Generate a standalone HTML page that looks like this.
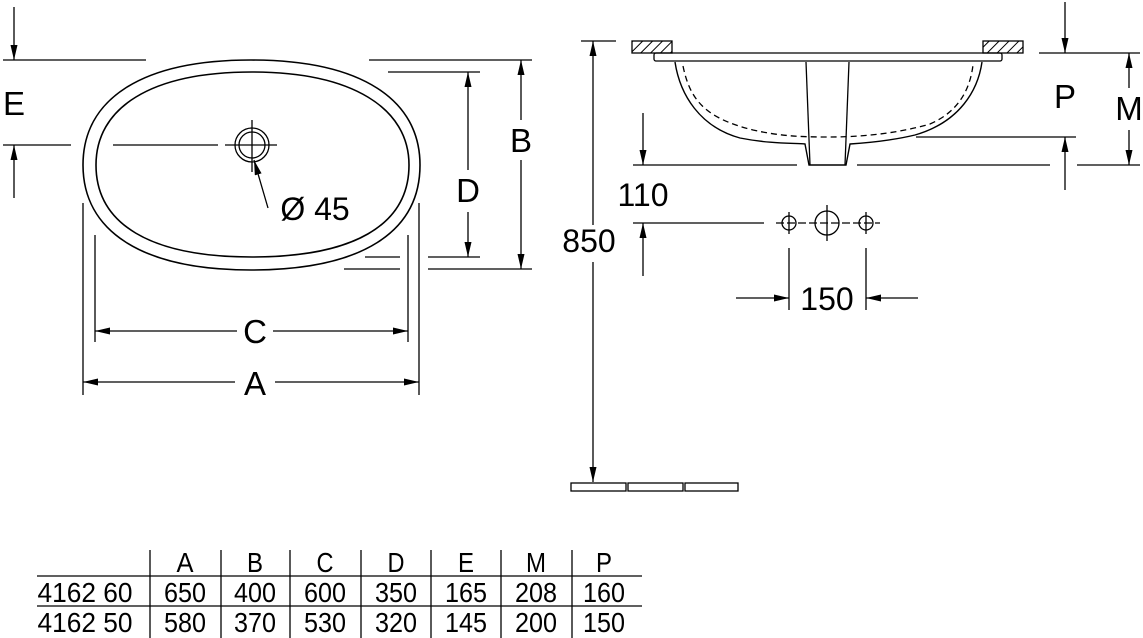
<!DOCTYPE html>
<html><head><meta charset="utf-8"><style>
html,body{margin:0;padding:0;background:#fff;}
svg{display:block;font-family:"Liberation Sans",sans-serif;}
</style></head><body>
<svg width="1143" height="638" viewBox="0 0 1143 638" xmlns="http://www.w3.org/2000/svg">
<defs>
<marker id="ar" markerUnits="userSpaceOnUse" markerWidth="16" markerHeight="8" refX="15" refY="3.5" orient="auto-start-reverse"><path d="M0,0 L15,3.5 L0,7 z" fill="#000"/></marker>
<pattern id="hatch" patternUnits="userSpaceOnUse" width="7" height="7" patternTransform="rotate(45)"><rect width="7" height="7" fill="#fff"/><line x1="0" y1="0" x2="0" y2="7" stroke="#000" stroke-width="2"/></pattern>
</defs>
<g stroke="#000" stroke-width="1.3" fill="none">
<path d="M251,60 C362,60 420,100 420,165 C420,232 362,270 251,270 C140,270 83,230 83,165 C83,100 140,60 251,60 Z" stroke-width="1.6"/>
<path d="M252,72 C352,72 409,108 409,165 C409,226 352,257 252,257 C150,257 96,224 96,165 C96,108 150,72 252,72 Z" stroke-width="1.6"/>
<line x1="3" y1="60" x2="146" y2="60"/>
<line x1="369" y1="60" x2="532" y2="60"/>
<line x1="14" y1="7" x2="14" y2="60" marker-end="url(#ar)"/>
<line x1="14" y1="198" x2="14" y2="145" marker-end="url(#ar)"/>
<line x1="3" y1="145" x2="71" y2="145"/>
<line x1="113" y1="145" x2="218" y2="145"/>
<line x1="225" y1="145" x2="277" y2="145"/>
<line x1="252" y1="120" x2="252" y2="172"/>
<circle cx="252" cy="145" r="17"/>
<circle cx="252" cy="145" r="13"/>
<line x1="268" y1="208" x2="254" y2="160" marker-end="url(#ar)"/>
<line x1="388" y1="72" x2="480" y2="72"/>
<line x1="365" y1="257" x2="400" y2="257"/>
<line x1="428" y1="257" x2="480" y2="257"/>
<line x1="344" y1="269" x2="400" y2="269"/>
<line x1="428" y1="269" x2="532" y2="269"/>
<line x1="468" y1="170" x2="468" y2="72" marker-end="url(#ar)"/>
<line x1="468" y1="212" x2="468" y2="257" marker-end="url(#ar)"/>
<line x1="521" y1="120" x2="521" y2="60" marker-end="url(#ar)"/>
<line x1="521" y1="160" x2="521" y2="269" marker-end="url(#ar)"/>
<line x1="83" y1="203" x2="83" y2="395"/>
<line x1="419" y1="203" x2="419" y2="395"/>
<line x1="95" y1="235" x2="95" y2="342"/>
<line x1="408" y1="235" x2="408" y2="342"/>
<line x1="237" y1="331" x2="95" y2="331" marker-end="url(#ar)"/>
<line x1="273" y1="331" x2="408" y2="331" marker-end="url(#ar)"/>
<line x1="235" y1="382" x2="83" y2="382" marker-end="url(#ar)"/>
<line x1="275" y1="382" x2="419" y2="382" marker-end="url(#ar)"/>
<line x1="581" y1="41" x2="616" y2="41"/>
<line x1="593" y1="225" x2="593" y2="41" marker-end="url(#ar)"/>
<line x1="593" y1="262" x2="593" y2="482" marker-end="url(#ar)"/>
<rect x="571" y="483" width="55" height="8"/>
<rect x="628" y="483" width="55" height="8"/>
<rect x="685" y="483" width="53" height="8"/>
<rect x="632" y="41" width="40" height="12" fill="url(#hatch)"/>
<rect x="983" y="41" width="40" height="12" fill="url(#hatch)"/>
<rect x="654" y="53" width="348" height="8" rx="2"/>
<path d="M675,62 C680,95 700,127 740,138 C770,144 795,143 805,144 L809,165 L846,165 L850,144 C865,143 890,141 915,135 C960,122 978,90 982,62" stroke-width="1.4"/>
<line x1="806" y1="62" x2="810" y2="165"/>
<line x1="849" y1="62" x2="845" y2="165"/>
<path d="M683,66 C690,100 705,118 753,130 C780,136 800,137 828,137 C860,137 895,134 930,124 C958,112 970,90 973,65" stroke-dasharray="6,4"/>
<line x1="633" y1="165" x2="797" y2="165"/>
<line x1="857" y1="165" x2="1050" y2="165"/>
<line x1="1077" y1="165" x2="1140" y2="165"/>
<line x1="916" y1="137" x2="1076" y2="137"/>
<line x1="1039" y1="53" x2="1140" y2="53"/>
<line x1="1065" y1="2" x2="1065" y2="53" marker-end="url(#ar)"/>
<line x1="1065" y1="190" x2="1065" y2="137" marker-end="url(#ar)"/>
<line x1="1129" y1="88" x2="1129" y2="53" marker-end="url(#ar)"/>
<line x1="1129" y1="130" x2="1129" y2="165" marker-end="url(#ar)"/>
<line x1="643" y1="113" x2="643" y2="165" marker-end="url(#ar)"/>
<line x1="643" y1="276" x2="643" y2="223" marker-end="url(#ar)"/>
<line x1="633" y1="223" x2="764" y2="223"/>
<circle cx="789" cy="223" r="7"/>
<circle cx="827" cy="223" r="12"/>
<circle cx="866" cy="223" r="7"/>
<line x1="776" y1="223" x2="880" y2="223" stroke-dasharray="8,3"/>
<line x1="789" y1="212" x2="789" y2="234"/>
<line x1="827" y1="205" x2="827" y2="241"/>
<line x1="866" y1="212" x2="866" y2="234"/>
<line x1="789" y1="248" x2="789" y2="310"/>
<line x1="866" y1="248" x2="866" y2="310"/>
<line x1="736" y1="298" x2="789" y2="298" marker-end="url(#ar)"/>
<line x1="918" y1="298" x2="866" y2="298" marker-end="url(#ar)"/>
<line x1="37" y1="576" x2="642" y2="576"/>
<line x1="37" y1="606" x2="642" y2="606"/>
<line x1="150" y1="550" x2="150" y2="638"/>
<line x1="221" y1="550" x2="221" y2="638"/>
<line x1="290" y1="550" x2="290" y2="638"/>
<line x1="361" y1="550" x2="361" y2="638"/>
<line x1="431" y1="550" x2="431" y2="638"/>
<line x1="501" y1="550" x2="501" y2="638"/>
<line x1="572" y1="550" x2="572" y2="638"/>
</g>
<g fill="#000" font-size="33" text-anchor="middle">
<text x="14" y="115">E</text>
<text x="521" y="152">B</text>
<text x="468" y="202">D</text>
<text x="255" y="343">C</text>
<text x="255" y="395">A</text>
<text x="315" y="220" font-size="32">Ø 45</text>
<text x="589" y="252" font-size="32">850</text>
<text x="643" y="206" font-size="32">110</text>
<text x="827" y="310" font-size="32">150</text>
<text x="1065" y="108">P</text>
<text x="1129" y="120">M</text>
</g>
<g fill="#000" font-size="28" text-anchor="middle">
<text x="185" y="572" textLength="17" lengthAdjust="spacingAndGlyphs">A</text><text x="255" y="572" textLength="16" lengthAdjust="spacingAndGlyphs">B</text><text x="325" y="572" textLength="17" lengthAdjust="spacingAndGlyphs">C</text><text x="396" y="572" textLength="17" lengthAdjust="spacingAndGlyphs">D</text><text x="466" y="572" textLength="16" lengthAdjust="spacingAndGlyphs">E</text><text x="536" y="572" textLength="20" lengthAdjust="spacingAndGlyphs">M</text><text x="604" y="572" textLength="16" lengthAdjust="spacingAndGlyphs">P</text>
<text x="85" y="602" textLength="95" lengthAdjust="spacingAndGlyphs">4162 60</text>
<text x="185" y="602" textLength="42" lengthAdjust="spacingAndGlyphs">650</text><text x="255" y="602" textLength="42" lengthAdjust="spacingAndGlyphs">400</text><text x="325" y="602" textLength="42" lengthAdjust="spacingAndGlyphs">600</text><text x="396" y="602" textLength="42" lengthAdjust="spacingAndGlyphs">350</text><text x="466" y="602" textLength="42" lengthAdjust="spacingAndGlyphs">165</text><text x="536" y="602" textLength="42" lengthAdjust="spacingAndGlyphs">208</text><text x="604" y="602" textLength="42" lengthAdjust="spacingAndGlyphs">160</text>
<text x="85" y="632" textLength="95" lengthAdjust="spacingAndGlyphs">4162 50</text>
<text x="185" y="632" textLength="42" lengthAdjust="spacingAndGlyphs">580</text><text x="255" y="632" textLength="42" lengthAdjust="spacingAndGlyphs">370</text><text x="325" y="632" textLength="42" lengthAdjust="spacingAndGlyphs">530</text><text x="396" y="632" textLength="42" lengthAdjust="spacingAndGlyphs">320</text><text x="466" y="632" textLength="42" lengthAdjust="spacingAndGlyphs">145</text><text x="536" y="632" textLength="42" lengthAdjust="spacingAndGlyphs">200</text><text x="604" y="632" textLength="42" lengthAdjust="spacingAndGlyphs">150</text>
</g>
</svg>
</body></html>
